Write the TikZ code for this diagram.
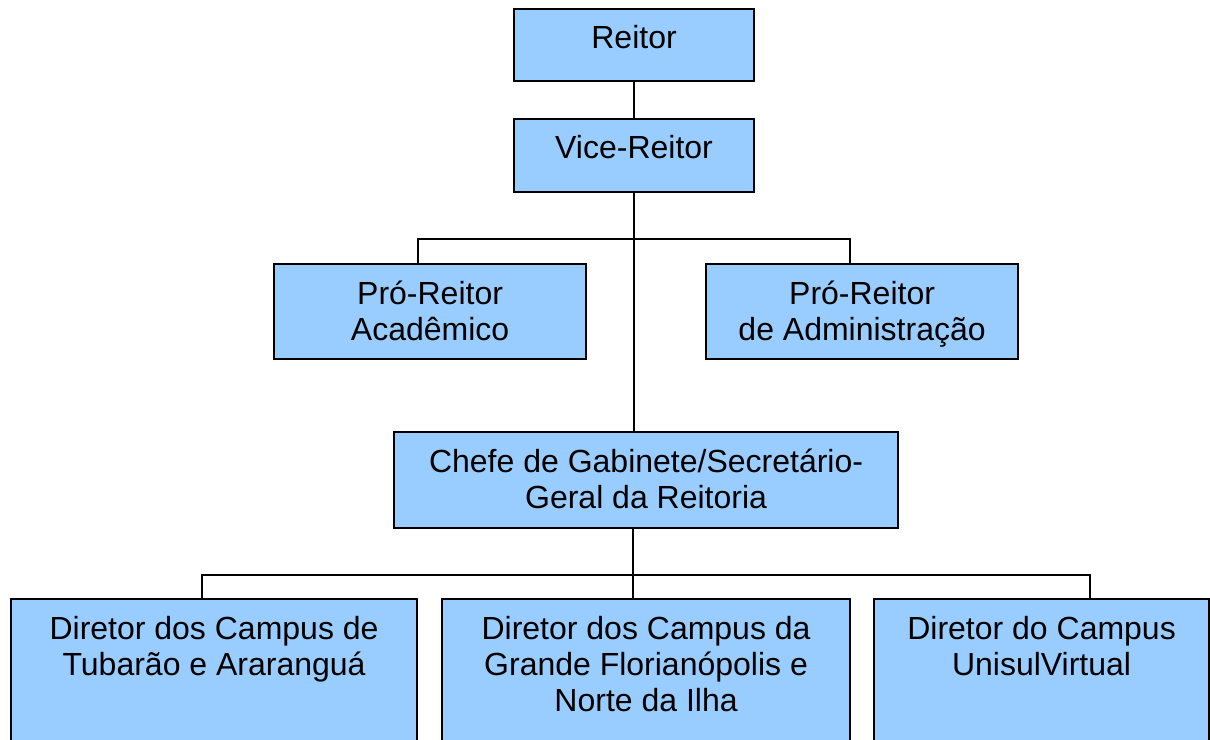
\documentclass[tikz,border=0pt]{standalone}
\usepackage{fontspec}
\setmainfont{Liberation Sans}
\usetikzlibrary{calc}
\definecolor{boxblue}{HTML}{99CCFF}
\tikzset{
  box/.style={draw=black, fill=boxblue, line width=1.6pt, inner sep=0pt, anchor=north west},
  lbl/.style={font=\fontsize{24}{27}\selectfont, align=center, inner sep=0pt, anchor=base},
  conn/.style={draw=black, line width=1.5pt}
}
\begin{document}
\begin{tikzpicture}[x=0.75pt, y=-0.75pt]
\useasboundingbox (0,0) rectangle (1210,739);
\clip (0,0) rectangle (1210,739);
\fill[white] (0,0) rectangle (1210,739);
% boxes
\node[box, minimum width=180pt, minimum height=54pt] (reitor) at (513,8) {};
\node[box, minimum width=180pt, minimum height=54.75pt] (vice) at (513,118) {};
\node[box, minimum width=234pt, minimum height=71.25pt] (pra) at (273,263) {};
\node[box, minimum width=234pt, minimum height=71.25pt] (prb) at (705,263) {};
\node[box, minimum width=378pt, minimum height=72pt] (chefe) at (393,431) {};
\node[box, minimum width=304.5pt, minimum height=150pt] (d1) at (10,598) {};
\node[box, minimum width=306pt, minimum height=150pt] (d2) at (441,598) {};
\node[box, minimum width=251.25pt, minimum height=150pt] (d3) at (873,598) {};
% labels (base anchor = baseline of last line)
\node[lbl] (reitor-t) at ($(reitor.north)+(0,40.5)$) {Reitor};
\node[lbl] (vice-t) at ($(vice.north)+(0,40.5)$) {Vice-Reitor};
\node[lbl] (pra-t) at ($(pra.north)+(0,77)$) {Pró-Reitor\\Acadêmico};
\node[lbl] (prb-t) at ($(prb.north)+(0,77)$) {Pró-Reitor\\de Administração};
\node[lbl] (chefe-t) at ($(chefe.north)+(0,77)$) {Chefe de Gabinete/Secretário-\\Geral da Reitoria};
\node[lbl] (d1-t) at ($(d1.north)+(0,77)$) {Diretor dos Campus de\\Tubarão e Araranguá};
\node[lbl] (d2-t) at ($(d2.north)+(0,113)$) {Diretor dos Campus da\\Grande Florianópolis e\\Norte da Ilha};
\node[lbl] (d3-t) at ($(d3.north)+(0,77)$) {Diretor do Campus\\UnisulVirtual};
% connectors
\coordinate (j1) at (633,239);
\coordinate (j2) at (633,575);
\draw[conn] (reitor.south) -- (vice.north);
\draw[conn] (vice.south) -- (vice.south |- chefe.north);
\draw[conn] ($(pra.north)+(-12,0)$) |- (j1) -| ($(prb.north)+(-12,0)$);
\draw[conn] (chefe.south -| j2) -- (j2);
\draw[conn] ($(d1.north)+(-12,0)$) |- (j2) -| ($(d3.north)+(48.5,0)$);
\draw[conn] (j2) -- (j2 |- d2.north);
\end{tikzpicture}
\end{document}
